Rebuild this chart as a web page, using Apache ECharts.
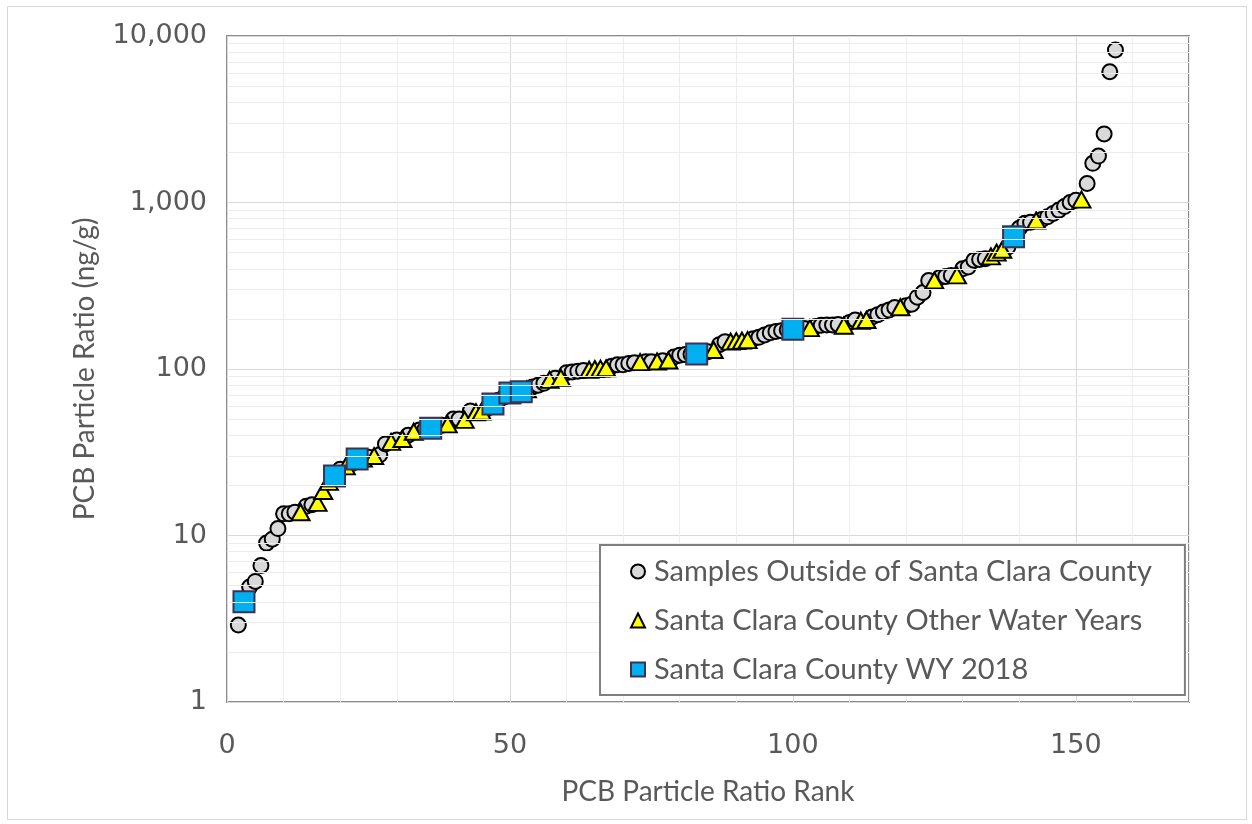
<!DOCTYPE html>
<html>
<head>
<meta charset="utf-8">
<script src="https://cdn.jsdelivr.net/npm/echarts@6/dist/echarts.min.js"></script>
<style>
  html, body { margin: 0; padding: 0; background: #fff; }
  #frame { position: absolute; left: 7px; top: 6px; width: 1238px; height: 812px; border: 1px solid #d9d9d9; }
  #chart { position: absolute; left: 0; top: 0; width: 1252px; height: 824px; }
</style>
</head>
<body>
<div id="frame"></div>
<div id="chart"></div>
<script>
// samples outside Santa Clara County (rank, ratio ng/g)
var outsideRanks = [2,4,5,6,7,8,9,10,11,12,14,15,20,22,25,27,28,30,32,34,35,37,38,40,41,43,46,48,49,51,
  54,55,56,58,60,61,62,63,68,69,70,71,72,74,75,77,79,80,81,82,84,85,87,88,93,94,95,96,97,98,99,
  101,102,104,105,106,107,108,110,111,114,115,116,117,118,120,121,122,123,124,126,127,128,130,131,
  132,133,134,138,140,141,142,144,145,146,147,148,149,150,152,153,154,155,156,157];
var outsideValues = [2.9,4.9,5.3,6.6,9.0,9.5,11.0,13.5,13.5,13.8,15.0,15.3,25,27,29.5,30.5,35.5,37.5,40,43,43.5,45,46,50,50,56,58,65,68,72,
  78,80,82,88,95,96,97,98,104,106,106,108,109,110.5,110.5,112,118,121,122,122.5,125,127,140,146,152,155,160,165,168,170,172,
  174,175,180,183,184,184,185,190,197,205,212,220,226,234,240,245,270,288,340,355,360,365,400,410,
  450,455,460,540,700,750,760,790,820,860,900,945,1000,1030,1300,1720,1900,2580,6100,8240];

// Santa Clara County, other water years
var otherRanks = [13,16,17,18,21,24,26,29,31,33,39,42,44,45,53,57,59,64,65,66,67,73,76,78,86,
  89,90,91,92,103,109,112,113,119,125,129,135,136,137,143,151];
var otherValues = [13.8,15.7,18.5,21,26,29,30,36.5,38,42,46.5,49.5,55,55.5,75.5,86,88.5,99,100,100.5,101,110,111,112.5,130,
  146,147,148,149,176,182,195,197,235,340,365,475,500,520,780,1040];

// Santa Clara County WY 2018
var wy2018Ranks = [3,19,23,36,47,50,52,83,100,139];
var wy2018Values = [4.0,22.8,28.8,44,61.6,71.8,73,123,173,623];

var seriesNames = ["Samples Outside of Santa Clara County", "Santa Clara County Other Water Years", "Santa Clara County WY 2018"];

var minorGrid = [];
[1, 10, 100, 1000].forEach(function (d) {
  for (var k = 2; k <= 9; k++) minorGrid.push(k * d);
});

function pairs(xs, ys) {
  return xs.map(function (x, i) { return [x, ys[i]]; });
}

var textColor = "#595959";
var myChart = echarts.init(document.getElementById("chart"));

var option = {
  backgroundColor: "transparent",
  animation: false,
  grid: {
    left: 227, top: 36, width: 962, height: 666,
    show: true, borderColor: "#8c8c8c", borderWidth: 2
  },
  legend: {
    orient: "vertical",
    left: 600, top: 545,
    z: 100,
    data: seriesNames,
    backgroundColor: "#fff",
    borderColor: "#7f7f7f",
    borderWidth: 2,
    padding: [12, 33, 11, 30],
    itemGap: 20,
    itemWidth: 14,
    itemHeight: 14,
    textStyle: { fontFamily: "Lato", fontSize: 29, color: textColor, padding: [0, 0, 0, 4] }
  },
  xAxis: {
    type: "value",
    min: 0, max: 170, interval: 10,
    name: "PCB Particle Ratio Rank",
    nameLocation: "middle",
    nameGap: 76,
    nameTextStyle: { fontFamily: "Lato", fontSize: 28, color: textColor },
    axisLine: { show: false },
    axisTick: { show: false },
    axisLabel: {
      margin: 30,
      fontFamily: "DejaVu Sans", fontSize: 27, color: textColor,
      formatter: function (v) { return v % 50 === 0 ? String(v) : ""; }
    },
    splitLine: { lineStyle: { color: ["#d9d9d9", "#eeeeee", "#eeeeee", "#eeeeee", "#eeeeee"], width: 1 } }
  },
  yAxis: {
    type: "log",
    logBase: 10,
    min: 1, max: 10000,
    name: "PCB Particle Ratio (ng/g)",
    nameLocation: "middle",
    nameGap: 128,
    nameTextStyle: { fontFamily: "Lato", fontSize: 28, color: textColor },
    axisLine: { show: false },
    axisTick: { show: false },
    axisLabel: {
      margin: 20,
      fontFamily: "DejaVu Sans", fontSize: 27, color: textColor,
      formatter: function (v) { return Number(v).toLocaleString("en-US"); }
    },
    splitLine: { lineStyle: { color: "#d9d9d9", width: 1 } }
  },
  series: [
    {
      // minor log gridlines
      name: "minor",
      type: "line",
      data: [],
      z: 0,
      silent: true,
      markLine: {
        silent: true,
        symbol: ["none", "none"],
        label: { show: false },
        lineStyle: { color: "#ececec", width: 1, type: "solid" },
        data: minorGrid.map(function (v) { return { yAxis: v }; })
      }
    },
    {
      name: seriesNames[0],
      type: "scatter",
      symbol: "circle",
      symbolSize: 15,
      itemStyle: { color: "#d9d9d9", borderColor: "#000", borderWidth: 2, opacity: 1 },
      data: pairs(outsideRanks, outsideValues)
    },
    {
      name: seriesNames[1],
      type: "scatter",
      symbol: "triangle",
      symbolSize: [18, 16],
      itemStyle: { color: "#ffff00", borderColor: "#000", borderWidth: 2, opacity: 1 },
      data: pairs(otherRanks, otherValues)
    },
    {
      name: seriesNames[2],
      type: "scatter",
      symbol: "rect",
      symbolSize: 21,
      itemStyle: { color: "#00b0f0", borderColor: "#3f3151", borderWidth: 2, opacity: 1 },
      data: pairs(wy2018Ranks, wy2018Values)
    }
  ]
};
myChart.setOption(option);
</script>
</body>
</html>
